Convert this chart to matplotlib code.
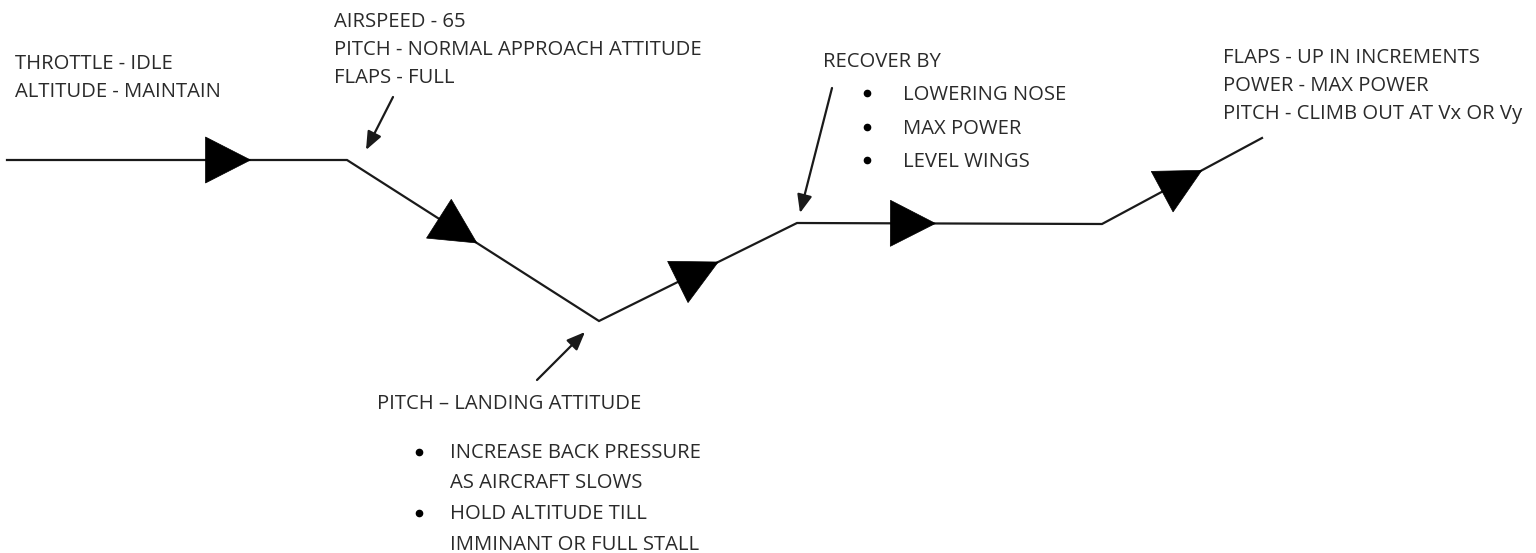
import numpy as np
import matplotlib
matplotlib.use("Agg")
import matplotlib.pyplot as plt
from matplotlib.patches import Polygon

plt.rcParams['font.family'] = ['Open Sans', 'DejaVu Sans']

# flight path vertices (pixel-like diagram coordinates, y downward)
path_x = [7, 347, 599, 797, 1102, 1262]
path_y = [160, 160, 321, 223, 224, 138]
# direction triangles: segment index and fraction along segment
tri_seg = [0, 1, 2, 3, 4]
tri_frac = [0.65, 0.44, 0.50, 0.38, 0.50]

# text blocks
throttle_lines = ["THROTTLE - IDLE", "ALTITUDE - MAINTAIN"]
approach_lines = ["AIRSPEED - 65", "PITCH - NORMAL APPROACH ATTITUDE", "FLAPS - FULL"]
recover_title = "RECOVER BY"
recover_items = ["LOWERING NOSE", "MAX POWER", "LEVEL WINGS"]
climb_lines = ["FLAPS - UP IN INCREMENTS", "POWER - MAX POWER", "PITCH - CLIMB OUT AT Vx OR Vy"]
landing_title = "PITCH \u2013 LANDING ATTITUDE"
landing_items = [["INCREASE BACK PRESSURE", "AS AIRCRAFT SLOWS"],
                 ["HOLD ALTITUDE TILL", "IMMINANT OR FULL STALL"]]

W, H = 1536, 553
fig = plt.figure(figsize=(W / 100, H / 100), dpi=100)
ax = fig.add_axes([0, 0, 1, 1])
ax.set_xlim(0, W)
ax.set_ylim(H, 0)
ax.axis('off')

ink = '#1a1a1a'
ax.plot(path_x, path_y, color=ink, lw=1.6, solid_joinstyle='miter', zorder=2)

# direction triangles
h_tri, b_tri = 45.0, 46.0
for s, f in zip(tri_seg, tri_frac):
    x0, y0 = path_x[s], path_y[s]
    x1, y1 = path_x[s + 1], path_y[s + 1]
    cx, cy = x0 + f * (x1 - x0), y0 + f * (y1 - y0)
    d = np.array([x1 - x0, y1 - y0], float)
    d /= np.linalg.norm(d)
    n = np.array([-d[1], d[0]])
    c = np.array([cx, cy])
    tip = c + d * h_tri / 2
    base = c - d * h_tri / 2
    pts = [tip, base + n * b_tri / 2, base - n * b_tri / 2]
    ax.add_patch(Polygon(pts, closed=True, facecolor='black', edgecolor='black', lw=0.5, zorder=3))

fs = 14.6
tc = '#2a2a2a'

def block(x, y0, lines, dy):
    for i, t in enumerate(lines):
        ax.text(x, y0 + i * dy, t, fontsize=fs, color=tc, ha='left', va='baseline')

block(15, 69, throttle_lines, 28)
block(334, 27, approach_lines, 28)
ax.text(823, 67, recover_title, fontsize=fs, color=tc, va='baseline')
for i, t in enumerate(recover_items):
    yb = 100 + i * 33.5
    ax.text(903, yb, t, fontsize=fs, color=tc, va='baseline')
    ax.plot(867, yb - 7, 'o', color='black', ms=4.5)
block(1223, 63, climb_lines, 28)
ax.text(377, 409, landing_title, fontsize=fs, color=tc, va='baseline')
yb = 458
for item in landing_items:
    ax.plot(419, yb - 6, 'o', color='black', ms=4.5)
    for t in item:
        ax.text(450, yb, t, fontsize=fs, color=tc, va='baseline')
        yb += 30.5

# pointer arrows
ap = dict(arrowstyle='-|>,head_length=1.1,head_width=0.45', color=ink, lw=1.6, shrinkA=0, shrinkB=0)
ax.annotate('', xy=(366, 150), xytext=(393, 97), arrowprops=ap)
ax.annotate('', xy=(800, 213), xytext=(832, 88), arrowprops=ap)
ax.annotate('', xy=(585, 332), xytext=(537, 380), arrowprops=ap)

fig.savefig('out.png', dpi=100, facecolor='white')
